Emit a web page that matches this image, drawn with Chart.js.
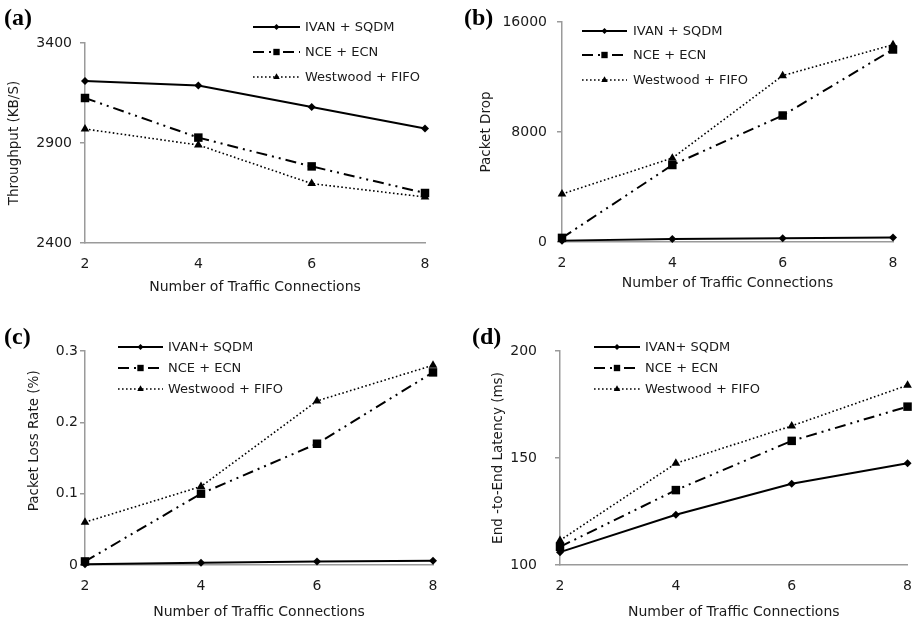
<!DOCTYPE html>
<html><head><meta charset="utf-8">
<script src="https://cdn.jsdelivr.net/npm/chart.js@4.4.1/dist/chart.umd.min.js"></script>
<style>
html,body{margin:0;padding:0;background:#fff;}
#wrap{position:relative;width:917px;height:623px;overflow:hidden;background:#fff}
canvas{position:absolute;left:0;top:0}
</style>
</head><body>
<div id="wrap">
<canvas id="ca" width="917" height="623"></canvas>
<canvas id="cb" width="917" height="623"></canvas>
<canvas id="cc" width="917" height="623"></canvas>
<canvas id="cd" width="917" height="623"></canvas>
</div>
<script>
// ---- data ----
const connections = ['2', '4', '6', '8'];
const xAxisTitle = 'Number of Traffic Connections';

const throughputIvan = [3210, 3187, 3080, 2973];
const throughputNce = [3125, 2927, 2783, 2650];
const throughputWestwood = [2970, 2890, 2697, 2630];

const dropIvan = [100, 220, 270, 320];
const dropNce = [300, 5600, 9200, 14000];
const dropWestwood = [3500, 6100, 12100, 14350];

const lossIvan = [0.001, 0.003, 0.005, 0.006];
const lossNce = [0.005, 0.1, 0.17, 0.27];
const lossWestwood = [0.06, 0.11, 0.23, 0.28];

const latencyIvan = [106, 123.5, 138, 147.5];
const latencyNce = [108.5, 135, 158, 174];
const latencyWestwood = [111.5, 147.5, 165, 184];

const labelsTop = ['IVAN + SQDM', 'NCE + ECN', 'Westwood + FIFO'];
const labelsBottom = ['IVAN+ SQDM', 'NCE + ECN', 'Westwood + FIFO'];

// ---- styling ----
const W = 917, H = 623;
const FONT = '"DejaVu Sans", sans-serif';
const FS = 14, HALF = FS * 1.2 / 2;
const AXIS = '#9a9a9a';
const TXT = '#1a1a1a';

const seriesStyle = [
  {borderColor: '#000', backgroundColor: '#000', borderWidth: 2, borderDash: [], pointStyle: 'rectRot', pointRadius: 4},
  {borderColor: '#000', backgroundColor: '#000', borderWidth: 2, borderDash: [11, 5, 2, 5, 2, 5], pointStyle: 'rect', pointRadius: 6},
  {borderColor: '#000', backgroundColor: '#000', borderWidth: 1.6, borderDash: [1.6, 2.4], pointStyle: 'triangle', pointRadius: 5}
];

function fmt(v) { return String(+Number(v).toFixed(4)); }

function makePanel(id, p) {
  const yLeft = p.yTitleX - HALF;
  const yW = p.area.l - yLeft;
  const xBottom = p.xTitleY + HALF;
  const xH = xBottom - p.area.b;
  const datasets = p.series.map((vals, i) => Object.assign({
    label: p.labels[i], data: vals, clip: false, tension: 0,
    pointBorderWidth: 0, fill: false
  }, seriesStyle[i]));

  const decor = {
    id: 'decor' + id,
    afterDraw(chart) {
      const ctx = chart.ctx;
      ctx.save();
      // panel letter
      ctx.font = 'bold 24px "Liberation Serif", "DejaVu Serif", serif';
      ctx.fillStyle = '#000';
      ctx.textBaseline = 'alphabetic';
      ctx.textAlign = 'left';
      ctx.fillText(p.letter, p.letterPos[0], p.letterPos[1]);
      // legend
      const lg = p.legend;
      chart.data.datasets.forEach((ds, i) => {
        const y = lg.rows[i];
        ctx.save();
        ctx.strokeStyle = ds.borderColor;
        ctx.lineWidth = ds.borderWidth;
        ctx.setLineDash(ds.borderDash);
        ctx.beginPath();
        ctx.moveTo(lg.x0, y);
        ctx.lineTo(lg.x1, y);
        ctx.stroke();
        ctx.restore();
        ctx.fillStyle = '#000';
        ctx.strokeStyle = '#000';
        Chart.helpers.drawPoint(ctx, {
          pointStyle: ds.pointStyle, radius: ds.pointRadius * 0.75, rotation: 0, borderWidth: 0
        }, (lg.x0 + lg.x1) / 2, y);
        ctx.fillStyle = TXT;
        ctx.font = '13px ' + FONT;
        ctx.textBaseline = 'middle';
        ctx.textAlign = 'left';
        ctx.fillText(ds.label, lg.tx, y + 0.5);
      });
      ctx.restore();
    }
  };

  return new Chart(document.getElementById(id), {
    type: 'line',
    data: {labels: connections, datasets},
    options: {
      responsive: false, animation: false, devicePixelRatio: 1,
      layout: {padding: {left: yLeft, top: p.area.t, right: W - p.area.r, bottom: H - xBottom}},
      plugins: {legend: {display: false}, tooltip: {enabled: false}, title: {display: false}},
      scales: {
        x: {
          type: 'category', offset: false,
          grid: {display: false},
          border: {display: true, color: AXIS, width: 1.5},
          ticks: {font: {family: FONT, size: FS}, color: TXT, padding: 5, autoSkip: false, maxRotation: 0},
          title: {display: true, text: xAxisTitle, font: {family: FONT, size: FS}, color: TXT, padding: 0},
          afterFit(s) { s.height = xH; }
        },
        y: {
          min: p.yMin, max: p.yMax,
          grid: {display: true, drawOnChartArea: false, drawTicks: true, tickLength: 5, color: AXIS, lineWidth: 1.5},
          border: {display: true, color: AXIS, width: 1.5},
          ticks: {stepSize: p.yStep, font: {family: FONT, size: FS}, color: TXT, padding: p.yPad, callback: fmt},
          title: {display: true, text: p.yTitle, font: {family: FONT, size: 13.5}, color: TXT, padding: 0},
          afterFit(s) { s.width = yW; }
        }
      }
    },
    plugins: [decor]
  });
}

makePanel('ca', {
  area: {l: 85, t: 43, r: 425, b: 243}, yTitleX: 15, xTitleY: 287,
  yMin: 2400, yMax: 3400, yStep: 500, yPad: 8, yTitle: 'Throughput (KB/S)',
  series: [throughputIvan, throughputNce, throughputWestwood], labels: labelsTop,
  letter: '(a)', letterPos: [4, 25],
  legend: {x0: 253, x1: 300, tx: 305, rows: [27, 52, 77]}
});
makePanel('cb', {
  area: {l: 562, t: 22, r: 893, b: 242}, yTitleX: 487, xTitleY: 283,
  yMin: 0, yMax: 16000, yStep: 8000, yPad: 10, yTitle: 'Packet Drop',
  series: [dropIvan, dropNce, dropWestwood], labels: labelsTop,
  letter: '(b)', letterPos: [464, 25],
  legend: {x0: 582, x1: 627, tx: 633, rows: [31, 55, 80]}
});
makePanel('cc', {
  area: {l: 85, t: 351, r: 433, b: 565}, yTitleX: 35, xTitleY: 612,
  yMin: 0, yMax: 0.3, yStep: 0.1, yPad: 2, yTitle: '\u00A0\u00A0\u00A0\u00A0\u00A0\u00A0\u00A0\u00A0Packet Loss Rate (%)',
  series: [lossIvan, lossNce, lossWestwood], labels: labelsBottom,
  letter: '(c)', letterPos: [4, 344],
  legend: {x0: 118, x1: 163, tx: 168, rows: [347, 368, 389]}
});
makePanel('cd', {
  area: {l: 560, t: 351, r: 909, b: 565}, yTitleX: 499, xTitleY: 612,
  yMin: 100, yMax: 200, yStep: 50, yPad: 18, yTitle: 'End -to-End Latency (ms)',
  series: [latencyIvan, latencyNce, latencyWestwood], labels: labelsBottom,
  letter: '(d)', letterPos: [472, 344],
  legend: {x0: 594, x1: 640, tx: 645, rows: [347, 368, 389]}
});
</script>
</body></html>
